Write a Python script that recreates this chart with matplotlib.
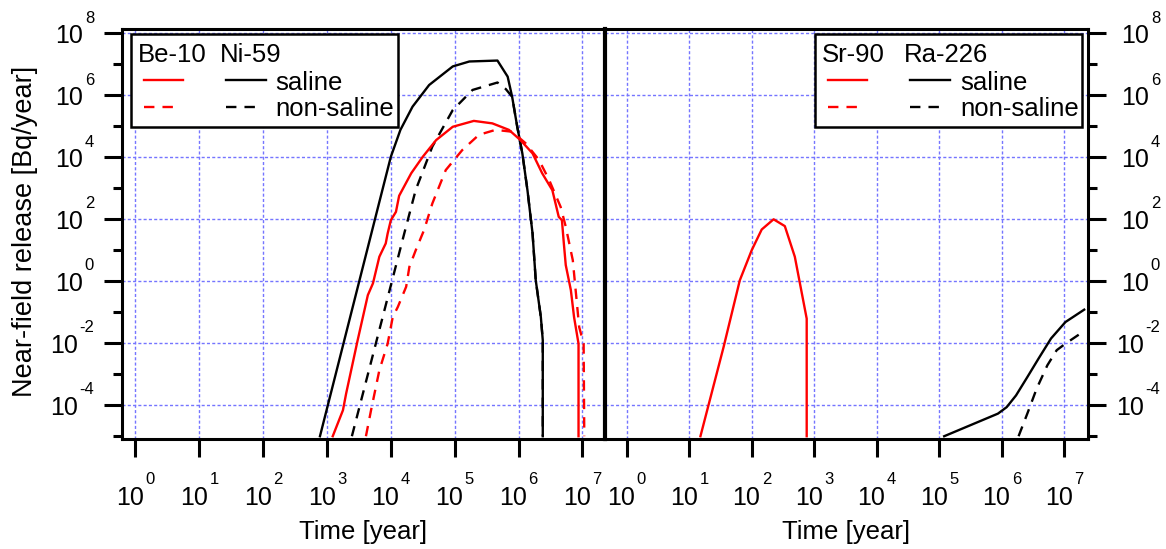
import numpy as np
import matplotlib
matplotlib.use('Agg')
import matplotlib.pyplot as plt
from matplotlib.lines import Line2D
from matplotlib.patches import Rectangle
from matplotlib.ticker import FixedLocator, NullFormatter, NullLocator

plt.rcParams['font.family'] = ['Liberation Sans', 'DejaVu Sans']
plt.rcParams['lines.scale_dashes'] = False

# ---------------- data (log10 values) ----------------
# Left panel: Be-10 (red) and Ni-59 (black)
ni59_saline_logt = [2.89, 3.82, 4.0, 4.15, 4.34, 4.6, 4.97, 5.23, 5.67, 5.83, 5.9, 5.98, 6.06, 6.14, 6.22, 6.27, 6.35, 6.38, 6.38]
ni59_saline_logq = [-5.02, 2.55, 4.01, 4.88, 5.63, 6.33, 6.93, 7.09, 7.12, 6.6, 5.95, 4.98, 4.12, 2.93, 1.53, 0.02, -1.17, -1.92, -5.02]

ni59_nonsal_logt = [3.39, 4.21, 4.39, 4.65, 4.97, 5.28, 5.67, 5.8, 5.9, 5.98, 6.06, 6.14, 6.22, 6.27, 6.35, 6.38, 6.38]
ni59_nonsal_logq = [-5.02, 1.53, 2.94, 4.34, 5.52, 6.17, 6.41, 6.2, 5.95, 4.98, 4.12, 2.93, 1.53, 0.02, -1.17, -1.92, -5.02]

be10_saline_logt = [3.09, 3.25, 3.3, 3.48, 3.64, 3.72, 3.82, 3.92, 3.95, 4.0, 4.08, 4.13, 4.32, 4.5, 4.71, 4.97, 5.3, 5.59,
                    5.85, 6.03, 6.22, 6.37, 6.53, 6.63, 6.68, 6.71, 6.74, 6.82, 6.87, 6.94, 6.94]
be10_saline_logq = [-5.02, -4.18, -3.64, -1.92, -0.46, -0.08, 0.78, 1.21, 1.53, 1.96, 2.23, 2.75, 3.48, 4.01, 4.55, 4.98, 5.17, 5.09,
                    4.88, 4.55, 4.12, 3.48, 2.93, 2.07, 1.96, 1.21, 0.51, -0.3, -1.17, -2.03, -5.02]

be10_nonsal_logt = [3.61, 3.69, 3.82, 3.95, 4.03, 4.11, 4.24, 4.29, 4.39, 4.52, 4.65, 4.86, 5.12, 5.38, 5.64, 5.9, 6.11,
                    6.32, 6.48, 6.66, 6.74, 6.85, 6.95, 7.02, 7.03]
be10_nonsal_logq = [-5.02, -4.18, -2.89, -2.03, -1.17, -0.84, -0.19, 0.45, 0.99, 1.64, 2.5, 3.58, 4.23, 4.72, 4.88, 4.82, 4.45,
                    3.91, 3.26, 2.39, 1.75, 0.67, -1.49, -2.03, -5.02]

# Right panel: Sr-90 (red) and Ra-226 (black)
sr90_saline_logt = [1.18, 1.55, 1.81, 2.0, 2.16, 2.35, 2.53, 2.69, 2.88, 2.88]
sr90_saline_logq = [-5.02, -2.14, 0.02, 0.99, 1.66, 1.99, 1.77, 0.78, -1.22, -5.02]

ra226_saline_logt = [5.08, 5.94, 6.08, 6.23, 6.41, 6.59, 6.79, 7.02, 7.32]
ra226_saline_logq = [-5.02, -4.29, -4.08, -3.7, -3.11, -2.51, -1.86, -1.33, -0.93]

ra226_nonsal_logt = [6.27, 6.41, 6.56, 6.73, 6.88, 7.02, 7.32]
ra226_nonsal_logq = [-5.02, -4.29, -3.48, -2.73, -2.24, -2.03, -1.62]

x_tick_exps = [0, 1, 2, 3, 4, 5, 6, 7]
y_major_exps = [-4, -2, 0, 2, 4, 6, 8]
y_minor_exps = [-5, -3, -1, 1, 3, 5, 7]

x_label = 'Time [year]'
y_label = 'Near-field release [Bq/year]'
legend_left_nuclides = ['Be-10', 'Ni-59']
legend_right_nuclides = ['Sr-90', 'Ra-226']
legend_cases = ['saline', 'non-saline']

# ---------------- figure ----------------
W, H = 1166, 549
fig = plt.figure(figsize=(W / 100, H / 100), dpi=100)
renderer = fig.canvas.get_renderer()

def fx(px):
    return px / W

def fy(py):
    return 1 - py / H

top_px, bot_px = 29.3, 439
axL = fig.add_axes([fx(122), fy(bot_px), fx(604.7) - fx(122), fy(top_px) - fy(bot_px)])
axR = fig.add_axes([fx(604.7), fy(bot_px), fx(1087.5) - fx(604.7), fy(top_px) - fy(bot_px)])

FS = 18.5       # legend and x labels
FS_Y = 19.5     # y label
FS_T = 18       # "10" of tick labels
FS_E = 12       # exponent of tick labels
RED = '#ff0000'
DASH = (0, (7.5, 5.8))
LW = 1.7
GRIDC = '#7575ff'

def p(lt, lq):
    return 10 ** np.asarray(lt), 10 ** np.asarray(lq)

for ax in (axL, axR):
    ax.set_xscale('log')
    ax.set_yscale('log')
    ax.set_ylim(10 ** -5.11, 10 ** 8.13)
    ax.xaxis.set_major_locator(FixedLocator([10.0 ** k for k in x_tick_exps]))
    ax.xaxis.set_major_formatter(NullFormatter())
    ax.xaxis.set_minor_locator(NullLocator())
    ax.yaxis.set_major_locator(FixedLocator([10.0 ** k for k in y_major_exps]))
    ax.yaxis.set_major_formatter(NullFormatter())
    ax.yaxis.set_minor_locator(FixedLocator([10.0 ** k for k in y_minor_exps]))
    ax.yaxis.set_minor_formatter(NullFormatter())
    ax.grid(True, which='major', color=GRIDC, linestyle=(0, (2.2, 1.6)), linewidth=1.0)
    ax.tick_params(axis='x', which='major', direction='out', length=13, width=2.2, top=False)
    for s in ax.spines.values():
        s.set_linewidth(2.2)

axL.set_xlim(10 ** -0.211, 10 ** 7.35)
axR.set_xlim(10 ** -0.352, 10 ** 7.373)

axL.tick_params(axis='y', which='major', direction='out', length=13, width=2.2, left=True, right=False)
axL.tick_params(axis='y', which='minor', direction='out', length=6.5, width=2.2, left=True, right=False)
axL.spines['right'].set_visible(False)

axR.tick_params(axis='y', which='major', direction='out', length=13, width=2.2, left=False, right=True)
axR.tick_params(axis='y', which='minor', direction='out', length=6.5, width=2.2, left=False, right=True)
axR.spines['left'].set_linewidth(3.0)

# curves
axL.plot(*p(ni59_saline_logt, ni59_saline_logq), color='black', lw=LW)
axL.plot(*p(ni59_nonsal_logt, ni59_nonsal_logq), color='black', lw=LW, linestyle=DASH)
axL.plot(*p(be10_saline_logt, be10_saline_logq), color=RED, lw=LW)
axL.plot(*p(be10_nonsal_logt, be10_nonsal_logq), color=RED, lw=LW, linestyle=DASH)

axR.plot(*p(sr90_saline_logt, sr90_saline_logq), color=RED, lw=LW)
axR.plot(*p(ra226_saline_logt, ra226_saline_logq), color='black', lw=LW)
axR.plot(*p(ra226_nonsal_logt, ra226_nonsal_logq), color='black', lw=LW, linestyle=DASH)

# ---------------- power-of-ten tick labels ("10" + small raised exponent) ----------------
def pow_label(anchor_px, base_px, exp, align):
    t10 = fig.text(0, 0, '10', fontsize=FS_T, ha='left', va='baseline')
    te = fig.text(0, 0, exp, fontsize=FS_E, ha='left', va='baseline')
    w10 = t10.get_window_extent(renderer).width
    we = te.get_window_extent(renderer).width
    gap = 1.5
    total = w10 + gap + we
    left = anchor_px - total / 2 if align == 'center' else anchor_px - total
    t10.set_position((fx(left), fy(base_px)))
    te.set_position((fx(left + w10 + gap), fy(base_px - 20.5)))

def data_px(ax, x, y):
    dx, dy = ax.transData.transform((x, y))
    return dx, H - dy

for ax in (axL, axR):
    for k in x_tick_exps:
        tx, _ = data_px(ax, 10.0 ** k, 1.0)
        pow_label(tx, 505, str(k), 'center')

for ax, right_edge in ((axL, 94), (axR, 1160)):
    for k in y_major_exps:
        _, ty = data_px(ax, 1.0, 10.0 ** k)
        pow_label(right_edge, ty + 10, str(k), 'right')

# ---------------- legends (drawn manually) ----------------
def legend(x0, x1, nucl, name_x, red_x, blk_x, text_x):
    fig.add_artist(Rectangle((fx(x0), fy(127)), fx(x1) - fx(x0), fy(34) - fy(127),
                             transform=fig.transFigure, facecolor='white', edgecolor='black',
                             lw=1.8, zorder=10))
    fig.text(fx(name_x[0]), fy(62), nucl[0], ha='left', va='baseline', fontsize=FS, zorder=11)
    fig.text(fx(name_x[1]), fy(62), nucl[1], ha='left', va='baseline', fontsize=FS, zorder=11)
    rows = ((79.5, '-', legend_cases[0], 90, 39.5), (106.7, DASH, legend_cases[1], 115.5, 30))
    for row_y, ls, lab, base, length in rows:
        fig.add_artist(Line2D([fx(red_x), fx(red_x + length)], [fy(row_y), fy(row_y)], color=RED, lw=LW,
                              linestyle=ls, transform=fig.transFigure, zorder=11))
        fig.add_artist(Line2D([fx(blk_x), fx(blk_x + length)], [fy(row_y), fy(row_y)], color='black', lw=LW,
                              linestyle=ls, transform=fig.transFigure, zorder=11))
        fig.text(fx(text_x), fy(base), lab, ha='left', va='baseline', fontsize=FS, zorder=11)

legend(131, 398, legend_left_nuclides, (137.5, 220), 143.5, 226, 275.5)
legend(815, 1082, legend_right_nuclides, (822, 904), 828, 910, 960)

fig.text(fx(25), fy(231), y_label, rotation=90, ha='center', va='center', fontsize=FS_Y)
fig.text(fx(363.4), fy(539.5), x_label, ha='center', va='baseline', fontsize=FS)
fig.text(fx(846), fy(539.5), x_label, ha='center', va='baseline', fontsize=FS)

fig.savefig('out.png', dpi=100)
